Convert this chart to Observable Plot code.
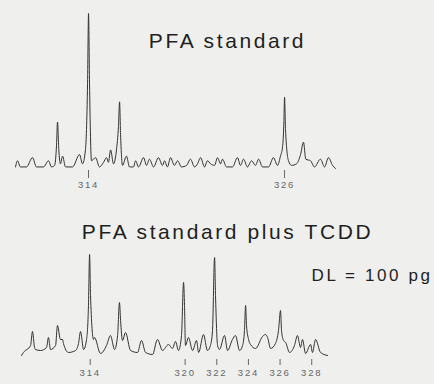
<!DOCTYPE html>
<html>
<head>
<meta charset="utf-8">
<script src="https://cdn.jsdelivr.net/npm/d3@7"></script>
<script src="https://cdn.jsdelivr.net/npm/@observablehq/plot@0.6"></script>
<style>
  html, body { margin: 0; padding: 0; background: #efefed; }
  #chart { width: 434px; height: 384px; overflow: hidden; }
  #chart svg { display: block; }
</style>
</head>
<body>
<div id="chart"></div>
<script>
// ---- Data ----
const topTitle = "PFA standard";
const bottomTitle = "PFA standard plus TCDD";
const amountLabel = "DL = 100 pg";

const topTicks = [314, 326];
const bottomTicks = [314, 320, 322, 324, 326, 328];

// PFA standard trace: m/z and relative intensity (%)
const topMz = [309.53,309.65,309.83,310.20,310.57,310.81,311.24,311.55,311.73,311.92,312.04,312.10,312.18,312.28,312.41,312.59,313.02,313.45,313.63,313.81,313.94,314.00,314.06,314.18,314.43,314.67,314.92,315.10,315.22,315.35,315.53,315.71,315.83,315.90,315.96,316.08,316.32,316.51,316.75,316.88,317.06,317.37,317.55,317.73,317.98,318.28,318.53,318.65,318.83,319.02,319.26,319.45,319.69,320.00,320.24,320.49,320.67,320.86,321.10,321.28,321.47,321.71,321.90,322.08,322.20,322.45,322.81,323.12,323.30,323.49,323.73,323.98,324.22,324.41,324.65,325.02,325.32,325.57,325.75,325.88,325.96,326.00,326.06,326.24,326.43,326.73,326.98,327.16,327.30,327.59,327.83,328.20,328.45,328.69,328.94,329.12];
const topInt = [1,5,1,1,7,1,1,5,1,2,15,30,12,3,8,1,1,9,3,12,55,100,55,5,7,1,4,7,4,12,3,12,27,43,22,2,8,1,1,5,1,7,2,6,1,7,2,5,1,7,2,5,1,2,6,1,3,7,1,5,3,2,7,3,6,1,1,7,2,6,1,5,2,6,1,1,7,2,8,14,30,46,25,5,2,3,9,17,6,5,1,6,1,7,2,0];

// PFA standard plus TCDD trace: m/z and relative intensity (%)
const bottomMz = [309.66,309.78,310.23,310.35,310.48,310.54,310.86,311.24,311.36,311.49,311.81,311.93,312.12,312.25,312.31,312.63,313.07,313.26,313.39,313.58,313.77,313.89,313.96,314.02,314.21,314.27,314.65,315.03,315.28,315.54,315.73,315.85,315.92,316.04,316.23,316.55,316.99,317.24,317.50,317.94,318.25,318.57,318.95,319.20,319.39,319.58,319.77,319.90,319.96,320.02,320.21,320.47,320.72,320.85,321.16,321.41,321.60,321.73,321.86,321.92,322.05,322.17,322.49,322.68,322.99,323.18,323.44,323.63,323.75,323.82,323.88,324.01,324.13,324.45,324.89,325.08,325.21,325.40,325.71,325.90,326.03,326.09,326.22,326.35,326.60,326.91,327.10,327.29,327.42,327.61,327.93,328.05,328.24,328.56,329.00];
const bottomInt = [0,3,10,24,8,6,5,8,18,6,10,30,16,16,12,3,5,12,24,6,16,50,101,60,16,18,2,10,20,6,20,53,35,15,23,5,3,15,3,1,16,5,11,7,14,5,20,73,50,10,18,5,15,3,21,5,10,25,98,60,10,6,20,5,16,20,5,10,25,50,30,16,11,7,19,21,18,7,12,25,45,25,15,13,3,10,20,8,16,2,11,3,16,3,0];

// ---- Drawing ----
const ink = "#333333";
const bg = "#efefed";
const font = "'Liberation Sans', Arial, Helvetica, sans-serif";

function toRows(mz, inten) { return mz.map((m, i) => ({mz: m, i: inten[i]})); }

function panel({rows, ticks, xDomain, yRange, marginBottom, tickSize, tickPadding, title, titleDx, titleDy, extra}) {
  const marks = [
    Plot.line(rows, {x: "mz", y: "i", stroke: ink, strokeWidth: 1, curve: "monotone-x"}),
    Plot.axisX({ticks, tickSize, tickPadding, fontSize: 9.5, stroke: "#666", fill: "#666", strokeWidth: 1, label: null, tickFormat: d => String(d)}),
    Plot.text([title], {frameAnchor: "top", dx: titleDx, dy: titleDy, lineAnchor: "top", fontSize: 21, fill: "#1f1f1f", fontWeight: 400})
  ];
  if (extra) marks.push(extra);
  const svg = Plot.plot({
    width: 434,
    height: 192,
    marginLeft: 0,
    marginRight: 0,
    marginTop: 0,
    marginBottom,
    style: {background: bg, fontFamily: font, color: ink},
    x: {domain: xDomain, axis: null},
    y: {domain: [0, 100], range: yRange, axis: null},
    marks
  });
  d3.select(svg).selectAll("g[aria-label='text'] text").style("letter-spacing", "2.6px");
  d3.select(svg).selectAll("g[aria-label='x-axis tick label'] text").style("letter-spacing", "1.8px");
  return svg;
}

const chart = document.getElementById("chart");

chart.appendChild(panel({
  rows: toRows(topMz, topInt),
  ticks: topTicks,
  xDomain: [308.61, 335.18],
  yRange: [168, 13],
  marginBottom: 22,
  tickSize: 8,
  tickPadding: 3,
  title: topTitle,
  titleDx: 10,
  titleDy: 33
}));

chart.appendChild(panel({
  rows: toRows(bottomMz, bottomInt),
  ticks: bottomTicks,
  xDomain: [308.33, 335.76],
  yRange: [163, 63],
  marginBottom: 25,
  tickSize: 6,
  tickPadding: 4,
  title: bottomTitle,
  titleDx: 10,
  titleDy: 32,
  extra: Plot.text([amountLabel], {frameAnchor: "top-left", dx: 311, dy: 76, lineAnchor: "top", textAnchor: "start", fontSize: 17, fill: "#1f1f1f"})
}));
</script>
</body>
</html>
